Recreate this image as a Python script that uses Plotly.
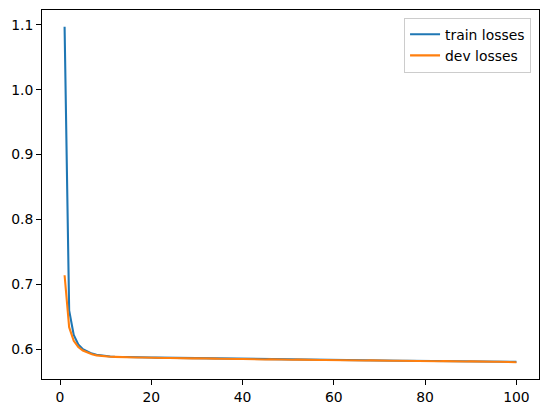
import plotly.graph_objects as go

epochs = list(range(1, 101))

train_losses = [
    1.0970, 0.6600, 0.6220, 0.6075, 0.6000, 0.5960, 0.5933, 0.5915, 0.5903, 0.5895,
    0.5889, 0.5885, 0.5882, 0.5880, 0.5879, 0.5877, 0.5876, 0.5874, 0.5873, 0.5872,
    0.5871, 0.5870, 0.5868, 0.5868, 0.5866, 0.5865, 0.5865, 0.5863, 0.5862, 0.5862,
    0.5860, 0.5859, 0.5859, 0.5857, 0.5856, 0.5856, 0.5854, 0.5853, 0.5853, 0.5851,
    0.5851, 0.5849, 0.5849, 0.5848, 0.5847, 0.5846, 0.5845, 0.5845, 0.5843, 0.5843,
    0.5842, 0.5841, 0.5840, 0.5840, 0.5838, 0.5838, 0.5837, 0.5836, 0.5835, 0.5835,
    0.5834, 0.5833, 0.5832, 0.5832, 0.5831, 0.5830, 0.5829, 0.5829, 0.5828, 0.5827,
    0.5826, 0.5826, 0.5825, 0.5824, 0.5823, 0.5823, 0.5822, 0.5821, 0.5821, 0.5820,
    0.5819, 0.5819, 0.5818, 0.5817, 0.5817, 0.5816, 0.5815, 0.5815, 0.5814, 0.5813,
    0.5813, 0.5812, 0.5811, 0.5811, 0.5810, 0.5809, 0.5809, 0.5808, 0.5807, 0.5806,
]

dev_losses = [
    0.7140, 0.6340, 0.6130, 0.6035, 0.5980, 0.5945, 0.5922, 0.5906, 0.5896, 0.5889,
    0.5884, 0.5882, 0.5878, 0.5879, 0.5875, 0.5876, 0.5872, 0.5873, 0.5870, 0.5871,
    0.5867, 0.5869, 0.5866, 0.5866, 0.5863, 0.5865, 0.5862, 0.5862, 0.5859, 0.5861,
    0.5857, 0.5858, 0.5856, 0.5855, 0.5853, 0.5855, 0.5851, 0.5852, 0.5850, 0.5850,
    0.5847, 0.5849, 0.5846, 0.5846, 0.5843, 0.5845, 0.5842, 0.5843, 0.5840, 0.5842,
    0.5839, 0.5840, 0.5837, 0.5838, 0.5836, 0.5837, 0.5834, 0.5835, 0.5833, 0.5834,
    0.5831, 0.5833, 0.5830, 0.5831, 0.5829, 0.5830, 0.5827, 0.5829, 0.5826, 0.5827,
    0.5824, 0.5826, 0.5823, 0.5824, 0.5822, 0.5823, 0.5820, 0.5822, 0.5819, 0.5820,
    0.5817, 0.5819, 0.5816, 0.5817, 0.5814, 0.5816, 0.5813, 0.5814, 0.5811, 0.5813,
    0.5810, 0.5811, 0.5808, 0.5810, 0.5807, 0.5808, 0.5805, 0.5807, 0.5803, 0.5800,
]

series_names = ["train losses", "dev losses"]
series_colors = ["#1f77b4", "#ff7f0e"]

fig = go.Figure()
for name, vals, col in zip(series_names, [train_losses, dev_losses], series_colors):
    fig.add_trace(go.Scatter(x=epochs, y=vals, mode="lines", name=name,
                             line=dict(color=col, width=2.08)))

font = dict(family="DejaVu Sans", size=13.9, color="black")
axis_common = dict(showgrid=False, zeroline=False, showline=True, mirror=True,
                   linecolor="black", linewidth=1.1, ticks="outside", ticklen=4.9,
                   tickwidth=1.1, tickcolor="black", tickfont=font)

ymin, ymax = min(min(train_losses), min(dev_losses)), max(max(train_losses), max(dev_losses))
ypad = (ymax - ymin) * 0.05
xpad = (epochs[-1] - epochs[0]) * 0.05

fig.update_layout(
    width=547, height=413,
    margin=dict(l=42, r=8, t=10, b=34),
    paper_bgcolor="white", plot_bgcolor="white",
    font=font,
    xaxis=dict(range=[epochs[0] - xpad, epochs[-1] + xpad], dtick=20, tick0=0, **axis_common),
    yaxis=dict(range=[ymin - ypad, ymax + ypad], dtick=0.1, tick0=0, tickformat=".1f", **axis_common),
    legend=dict(x=0.984, y=0.979, xanchor="right", yanchor="top",
                bgcolor="rgba(255,255,255,0.8)", bordercolor="#cccccc", borderwidth=1,
                font=font, itemwidth=30, tracegroupgap=0),
    showlegend=True,
)

fig.write_html("out.html", config={"displayModeBar": False},
               post_script="document.body.style.margin='0px';document.body.style.overflow='hidden';")
